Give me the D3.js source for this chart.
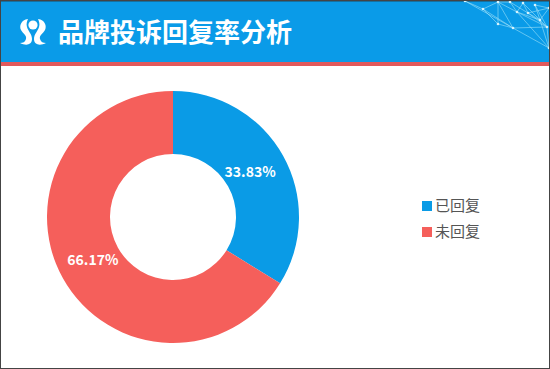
<!DOCTYPE html>
<html>
<head>
<meta charset="utf-8">
<script src="https://cdn.jsdelivr.net/npm/d3@7"></script>
<style>
  html, body { margin: 0; padding: 0; background: #fff; }
  svg { display: block; }
  text { font-family: "Noto Sans CJK SC", "Noto Sans", sans-serif; }
</style>
</head>
<body>
<div id="chart"></div>
<script>
const categories = ['已回复', '未回复']
const values = [33.83, 66.17]
const colors = ['#0a9be6', '#f55f5b']
const titleText = '品牌投诉回复率分析'

const width = 550
const height = 369
const svg = d3.select('#chart').append('svg').attr('width', width).attr('height', height)

// 顶部标题栏
svg.append('rect').attr('width', width).attr('height', height).attr('fill', '#fff')
svg.append('rect').attr('width', width).attr('height', 62).attr('fill', '#0a9be8')
svg.append('rect').attr('width', width).attr('height', 2).attr('fill', '#17709f')
svg.append('rect').attr('y', 62).attr('width', width).attr('height', 4).attr('fill', '#e2595b')

// 右上角网状装饰
const net = [[465, 1], [483, 9], [498, 2], [498, 24], [513, 28], [517, 12], [528, 13], [535, 5], [540, 20], [547, 27], [549, 48], [510, 2], [549, 8], [523, 3]]
const links = [[0, 1], [1, 2], [1, 3], [2, 3], [2, 4], [3, 4], [4, 10], [4, 9], [5, 9], [5, 8], [6, 8], [6, 9], [7, 8], [7, 9], [8, 9], [9, 10], [11, 5], [11, 6], [12, 8], [12, 6], [13, 6], [13, 5], [2, 5], [1, 4], [7, 12], [8, 10], [5, 10], [2, 11], [13, 8], [0, 4]]
svg.append('g').selectAll('line').data(links).join('line')
  .attr('x1', d => net[d[0]][0]).attr('y1', d => net[d[0]][1])
  .attr('x2', d => net[d[1]][0]).attr('y2', d => net[d[1]][1])
  .attr('stroke', '#a8e6fa').attr('stroke-width', 0.8).attr('opacity', 0.7)
svg.append('g').selectAll('circle').data(net).join('circle')
  .attr('cx', d => d[0]).attr('cy', d => d[1]).attr('r', 1.3).attr('fill', '#d5f3fd')

// logo
const logo = svg.append('g').attr('fill', '#fff')
const swoosh = 'M28 19 C21 20 19 26 21 30 C23 34 27 35 26 39 C25 42 23 43 20 43 C26 46 32 45 32 39 C32 34 28 31 27 27 C26 24 27 21 28 19 Z'
logo.append('circle').attr('cx', 33).attr('cy', 25).attr('r', 4.6)
logo.append('path').attr('d', swoosh)
logo.append('path').attr('d', swoosh).attr('transform', 'translate(66,0) scale(-1,1)')

svg.append('text').attr('x', 58).attr('y', 42)
  .attr('font-size', 26).attr('font-weight', 700).attr('fill', '#fff')
  .text(titleText)

// 环形图
const pie = d3.pie().sort(null).value(d => d)
const arc = d3.arc().innerRadius(63).outerRadius(126)
const labelArc = d3.arc().innerRadius(90).outerRadius(90)
const pieG = svg.append('g').attr('transform', 'translate(173,217)')
const arcs = pie(values)
pieG.selectAll('path').data(arcs).join('path')
  .attr('d', arc)
  .attr('fill', (d, i) => colors[i])
pieG.selectAll('text').data(arcs).join('text')
  .attr('transform', d => 'translate(' + labelArc.centroid(d) + ')')
  .attr('text-anchor', 'middle')
  .attr('dx', -1.5)
  .attr('dy', 4)
  .attr('font-size', 14)
  .attr('font-weight', 700)
  .attr('fill', '#fff')
  .text((d, i) => values[i].toFixed(2) + '%')

// 图例
const legendY = d3.scalePoint().domain(categories).range([206, 232])
const legend = svg.append('g').selectAll('g').data(categories).join('g')
  .attr('transform', d => 'translate(422,' + legendY(d) + ')')
legend.append('rect').attr('y', -5).attr('width', 10).attr('height', 10)
  .attr('fill', (d, i) => colors[i])
legend.append('text').attr('x', 13).attr('dy', '0.36em')
  .attr('font-size', 15).attr('fill', '#555').text(d => d)

// 外边框
svg.append('rect').attr('x', 0.5).attr('y', 0.5).attr('width', width - 1).attr('height', height - 1)
  .attr('fill', 'none').attr('stroke', '#444')
</script>
</body>
</html>
